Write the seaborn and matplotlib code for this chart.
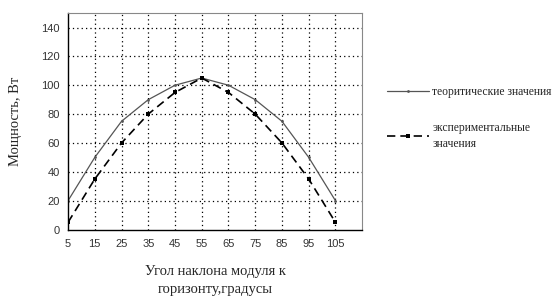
import numpy as np
import pandas as pd
import matplotlib
matplotlib.use("Agg")
import matplotlib.pyplot as plt
import seaborn as sns

# data
angles = [5, 15, 25, 35, 45, 55, 65, 75, 85, 95, 105]
theory = [20, 50, 75, 90, 100, 105, 100, 90, 75, 50, 20]
experiment = [5, 35, 60, 80, 95, 105, 95, 80, 60, 35, 5]
series_names = ["теоритические значения", "экспериментальные\nзначения"]
y_ticks = [0, 20, 40, 60, 80, 100, 120, 140]
x_ticks = angles

sns.set_style("white")
plt.rcParams["font.family"] = ["Liberation Sans", "DejaVu Sans"]

fig = plt.figure(figsize=(5.53, 2.97), dpi=100)
ax = fig.add_axes([0.123, 0.227, 0.532, 0.729])

df = pd.DataFrame({
    "angle": angles * 2,
    "power": theory + experiment,
    "series": [series_names[0]] * len(angles) + [series_names[1]] * len(angles),
})

sns.lineplot(data=df[df.series == series_names[0]], x="angle", y="power",
             color="#555555", lw=0.9, marker="o", markersize=2.0,
             markeredgewidth=0, ax=ax, label=series_names[0])
sns.lineplot(data=df[df.series == series_names[1]], x="angle", y="power",
             color="black", lw=1.2, linestyle=(0, (5, 3)), marker="s", markersize=2.5,
             markeredgewidth=0, ax=ax, label=series_names[1])

ax.set_xlim(5, 115)
ax.set_ylim(0, 150)
ax.set_yticks(y_ticks)
ax.set_xticks(x_ticks + [115])
ax.set_xticklabels([str(v) for v in x_ticks] + [""])

for v in x_ticks[1:]:
    ax.axvline(v, color="black", lw=0.9, linestyle=(0, (1, 2.5)), zorder=0)
for v in y_ticks[1:]:
    ax.axhline(v, color="black", lw=0.9, linestyle=(0, (1, 2.5)), zorder=0)

ax.tick_params(axis="both", direction="inout", length=5, width=0.8,
               labelsize=8, labelcolor="#333333", color="black")
ax.tick_params(axis="x", pad=4)

for side in ["left", "bottom"]:
    ax.spines[side].set_color("black")
    ax.spines[side].set_linewidth(1.0)
for side in ["top", "right"]:
    ax.spines[side].set_color("#888888")
    ax.spines[side].set_linewidth(0.8)

ax.set_xlabel("Угол наклона модуля к\nгоризонту,градусы", family="Liberation Serif",
              fontsize=10.5, labelpad=12, linespacing=1.5)
ax.set_ylabel("Мощность, Вт", family="Liberation Serif", fontsize=10.5, labelpad=14)

leg = ax.legend(loc="upper left", bbox_to_anchor=(1.05, 0.71), frameon=False,
                prop={"family": "Liberation Serif", "size": 8.4},
                handlelength=3.6, handletextpad=0.25, labelspacing=2.0)
for t in leg.get_texts():
    t.set_linespacing(1.5)

fig.savefig("out.png", dpi=100)
